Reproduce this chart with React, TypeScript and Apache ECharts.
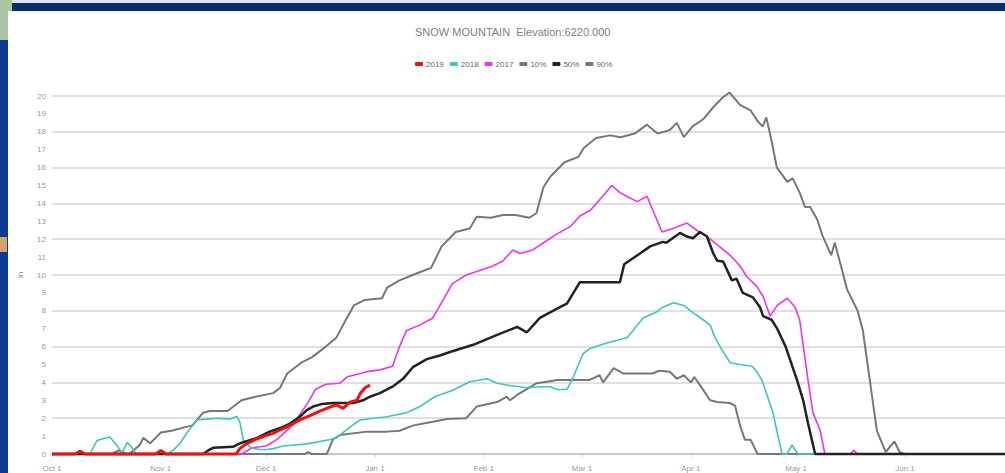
import React, { useEffect, useRef } from "react";
import * as echarts from "echarts";

// Day offsets from Oct 1, snow water values (in)
const monthTickDays = [0, 31, 61, 92, 123, 151, 182, 212, 243];
const monthTickLabels = ["Oct 1", "Nov 1", "Dec 1", "Jan 1", "Feb 1", "Mar 1", "Apr 1", "May 1", "Jun 1"];

const titleText = "SNOW MOUNTAIN  Elevation:6220.000";
const seriesNames = ["2019", "2018", "2017", "10%", "50%", "90%"];

const s2019: [number, number][] = [
  [0, 0], [6.5, 0], [8, 0.15], [9.5, 0], [29.5, 0], [31, 0.2], [32.5, 0], [52.5, 0],
  [53.5, 0.3], [55.6, 0.6], [58.4, 0.85], [61.3, 1.05], [63, 1.15], [64.9, 1.34],
  [67.8, 1.6], [70.6, 1.9], [73.5, 2.15], [76.3, 2.4], [79, 2.6], [81, 2.75],
  [82.9, 2.55], [84.9, 2.9], [86.9, 3.0], [87.7, 3.35], [89.2, 3.7], [90.6, 3.85],
];

const s2018: [number, number][] = [
  [0, 0], [10.8, 0], [12.8, 0.75], [14.5, 0.85], [16.5, 0.95], [18.8, 0.4], [20, 0.05],
  [21.4, 0.65], [22.8, 0.35], [24, 0], [32.8, 0], [34.5, 0.2], [36.5, 0.6], [38.5, 1.2],
  [41.3, 1.9], [44, 1.95], [47, 2.0], [50.7, 1.95], [52.7, 2.1], [53.5, 1.8], [54.5, 0.8],
  [56.6, 0.35], [59, 0.25], [61.3, 0.25], [63, 0.3], [65.8, 0.45], [72, 0.55], [75, 0.65],
  [79, 0.8], [81, 0.9], [84.9, 1.5], [87.7, 1.9], [91.5, 2.0], [95.4, 2.08], [101, 2.3],
  [104.8, 2.65], [109, 3.2], [114, 3.55], [119, 4.04], [123.9, 4.2], [126.8, 3.95],
  [129.6, 3.85], [133.3, 3.76], [135.3, 3.7], [139, 3.76], [141.9, 3.76], [143.9, 3.6],
  [146.7, 3.6], [148.5, 4.3], [151.3, 5.6], [153.3, 5.9], [158, 6.2], [163.8, 6.5],
  [165.5, 6.9], [168.4, 7.6], [172.4, 7.95], [174, 8.2], [177, 8.45], [180, 8.3],
  [182.6, 7.9], [185.5, 7.5], [187.5, 7.2], [188.9, 6.5], [190.9, 5.8], [193.2, 5.1],
  [196, 5.0], [199.4, 4.9], [200.8, 4.6], [202.3, 4.1], [205.4, 2.3], [206.6, 1.2],
  [208, 0], [209.4, 0], [210.8, 0.5], [212.5, 0], [271.5, 0],
];

const s2017: [number, number][] = [
  [0, 0], [54, 0], [57, 0.35], [61, 0.45], [64, 0.8], [68, 1.5], [70.6, 2.2], [73, 2.9],
  [75, 3.6], [78, 3.9], [82, 3.95], [84, 4.3], [89.7, 4.6], [93.4, 4.7], [97, 4.9],
  [99, 6.0], [101, 6.9], [104.8, 7.2], [108.5, 7.6], [111.4, 8.6], [114, 9.5], [118, 10.0],
  [121, 10.2], [125.6, 10.5], [128.5, 10.8], [131.3, 11.4], [133.3, 11.2], [137, 11.4],
  [140, 11.8], [143.9, 12.3], [147.6, 12.7], [150.4, 13.3], [153.3, 13.6], [156, 14.2],
  [159.5, 15.0], [161.8, 14.6], [164.7, 14.3], [166.7, 14.1], [169.5, 14.4], [171.2, 13.6],
  [173.8, 12.4], [176.9, 12.6], [180.9, 12.9], [183.7, 12.5], [186.6, 12.15], [189.5, 11.7],
  [193.2, 11.1], [196, 10.5], [198, 9.9], [200.8, 9.35], [202.6, 8.8], [204.6, 7.7],
  [206.6, 8.3], [209.5, 8.7], [211.7, 8.2], [213, 7.5], [215.4, 4.1], [216.8, 2.3],
  [218.8, 1.34], [220.2, 0], [227.4, 0], [228.4, 0.2], [229.5, 0], [271.5, 0],
];

const p10: [number, number][] = [
  [0, 0], [72, 0], [73, 0.1], [74, 0], [78.3, 0], [80, 0.8], [82, 1.06], [89.7, 1.25],
  [95.4, 1.25], [99, 1.3], [103, 1.6], [108.5, 1.8], [112.5, 1.95], [118, 2.0], [121, 2.65],
  [126.8, 2.9], [129.6, 3.2], [130.5, 3.0], [132.5, 3.3], [138, 3.95], [141, 4.04],
  [144, 4.13], [153, 4.13], [156, 4.4], [157, 4.0], [160, 4.8], [162.7, 4.5], [171, 4.5],
  [173, 4.65], [176, 4.6], [178, 4.2], [180, 4.4], [182, 4.0], [183, 4.3], [184.6, 3.85],
  [187.5, 3.0], [189.5, 2.9], [193, 2.85], [194.6, 2.7], [196, 1.6], [197.4, 0.8],
  [199, 0.8], [201, 0], [271.5, 0],
];

const p50: [number, number][] = [
  [0, 0], [43, 0], [44.5, 0.2], [46, 0.35], [51.5, 0.4], [53.6, 0.6], [58.4, 0.9],
  [62, 1.25], [65, 1.45], [67.8, 1.7], [70.6, 2.08], [72.6, 2.45], [74.4, 2.65], [77, 2.8],
  [80, 2.85], [85.8, 2.85], [88.6, 3.0], [90.6, 3.2], [93.4, 3.4], [97, 3.76], [100, 4.2],
  [102.8, 4.85], [106.8, 5.3], [110.5, 5.5], [113.4, 5.7], [120, 6.1], [126.8, 6.65],
  [132.5, 7.1], [135.3, 6.8], [139, 7.6], [144.7, 8.2], [146.7, 8.4], [150.4, 9.6],
  [161.8, 9.6], [163, 10.6], [167.5, 11.2], [170.4, 11.6], [174, 11.85], [175, 11.8],
  [178.9, 12.35], [180.9, 12.15], [182.6, 12.05], [184.6, 12.4], [186.6, 12.15],
  [188.4, 11.2], [189.5, 10.8], [191.2, 10.75], [193.7, 9.7], [195, 9.8], [196.8, 9.0],
  [199.7, 8.75], [201.7, 8.2], [202.6, 7.7], [205, 7.5], [206.6, 7.0], [209, 6.0],
  [212.3, 4.1], [214, 3.0], [215.4, 1.7], [217.4, 0], [271.5, 0],
];

const p90: [number, number][] = [
  [0, 0], [17, 0], [19, 0.2], [21, 0], [22, 0], [25, 0.5], [26, 0.9], [28, 0.6], [30, 1.0],
  [31, 1.2], [34, 1.3], [38, 1.5], [40, 1.6], [43, 2.3], [45, 2.4], [50, 2.4], [52, 2.7],
  [54, 3.0], [58, 3.2], [63, 3.4], [65, 3.7], [67, 4.5], [71, 5.1], [74, 5.4], [78, 6.0],
  [81, 6.5], [84, 7.6], [86, 8.3], [89, 8.6], [94, 8.7], [95.5, 9.3], [99, 9.7],
  [104, 10.1], [108, 10.4], [111, 11.6], [115, 12.4], [119, 12.6], [121, 13.25],
  [125, 13.2], [128.5, 13.35], [132, 13.35], [136, 13.2], [138, 13.45], [140, 14.9],
  [142, 15.5], [146, 16.3], [150, 16.6], [151.5, 17.1], [155, 17.65], [159, 17.8],
  [162, 17.7], [166, 17.9], [169.5, 18.4], [172.5, 17.9], [176, 18.1], [178, 18.5],
  [180, 17.7], [182.5, 18.3], [185.5, 18.7], [188.5, 19.4], [191, 19.9], [193, 20.2],
  [196, 19.5], [199, 19.2], [201, 18.6], [202.5, 18.3], [203.5, 18.8], [205, 17.5],
  [206.5, 16.0], [209.5, 15.2], [211, 15.4], [213, 14.6], [214.5, 13.8], [216, 13.8],
  [218, 13.1], [219.5, 12.2], [222, 11.1], [223, 11.8], [224.5, 10.7], [226.5, 9.2],
  [229.5, 8.0], [231, 6.9], [233, 4.1], [235, 1.3], [237.5, 0.1], [240, 0.7], [241.5, 0.1],
  [243, 0], [271.5, 0],
];

const seriesData = [s2019, s2018, s2017, p10, p50, p90];
const seriesColors = ["#ee1111", "#3cc6c0", "#ee33ee", "#777777", "#222222", "#777777"];
const seriesWidths = [3, 1.6, 1.6, 2, 2.5, 2];
const drawOrder = [3, 5, 2, 1, 4, 0];

export default function App() {
  const ref = useRef<HTMLDivElement>(null);
  useEffect(() => {
    if (!ref.current) return;
    const chart = echarts.init(ref.current, null, { renderer: "svg" });
    const font = "'Liberation Sans', Arial, sans-serif";
    chart.setOption({
      animation: false,
      backgroundColor: "transparent",
      title: {
        text: titleText,
        left: 410,
        top: 21,
        textStyle: { fontSize: 11, fontWeight: "normal", color: "#808080", fontFamily: font },
      },
      legend: {
        data: seriesNames,
        left: 410,
        top: 55,
        itemWidth: 8,
        itemHeight: 4,
        itemGap: 6,
        icon: "roundRect",
        textStyle: { fontSize: 8, color: "#666", fontFamily: font, padding: [0, 0, 0, -2] },
      },
      grid: { left: 52, right: 0, top: 96, bottom: 19 },
      xAxis: {
        type: "value",
        min: 0,
        max: 271.5,
        offset: 7,
        axisLine: { show: true, lineStyle: { color: "#c8c8c8", width: 2 } },
        axisTick: { show: true, customValues: monthTickDays, length: 3, lineStyle: { color: "#c8c8c8" } },
        axisLabel: {
          customValues: monthTickDays,
          formatter: (v: number) => monthTickLabels[monthTickDays.indexOf(Math.round(v))] ?? "",
          fontSize: 8,
          color: "#999",
          margin: 3,
          fontFamily: font,
        },
        splitLine: { show: false },
      },
      yAxis: [
        {
          type: "value",
          min: 0,
          max: 20,
          interval: 1,
          name: "in",
          nameLocation: "middle",
          nameRotate: 90,
          nameGap: 28,
          nameTextStyle: { fontSize: 8, color: "#888", fontFamily: font },
          axisLine: { show: false },
          axisTick: { show: false },
          axisLabel: { fontSize: 8, color: "#999", margin: 6, fontFamily: font },
          splitLine: { show: false },
        },
        {
          type: "value",
          min: 0,
          max: 20,
          interval: 2,
          position: "left",
          axisLine: { show: false },
          axisTick: { show: false },
          axisLabel: { show: false },
          splitLine: { show: true, lineStyle: { color: "#d6d6d6", width: 1.5 } },
        },
      ],
      series: drawOrder.map((i) => ({
        name: seriesNames[i],
        type: "line",
        data: seriesData[i],
        yAxisIndex: 0,
        showSymbol: false,
        symbol: "none",
        clip: false,
        color: seriesColors[i],
        lineStyle: { color: seriesColors[i], width: seriesWidths[i] },
        z: 2 + drawOrder.indexOf(i),
      })),
    });
    return () => chart.dispose();
  }, []);

  return (
    <div style={{ position: "absolute", left: 0, top: 0, width: 1005, height: 473, background: "#0d3a93", overflow: "hidden" }}>
      <div style={{ position: "absolute", left: 0, top: 0, width: 1005, height: 3, background: "#dfe6ee" }} />
      <div style={{ position: "absolute", left: 0, top: 3, width: 1005, height: 8, background: "#0c2c6e" }} />
      <div style={{ position: "absolute", left: 0, top: 0, width: 12, height: 40, background: "#a9c7a2" }} />
      <div style={{ position: "absolute", left: 0, top: 237, width: 7, height: 15, background: "#d6a06a" }} />
      <div style={{ position: "absolute", left: 8, top: 11, width: 997, height: 462, background: "#ffffff" }} />
      <div ref={ref} style={{ position: "absolute", left: 0, top: 0, width: 1005, height: 473 }} />
    </div>
  );
}
